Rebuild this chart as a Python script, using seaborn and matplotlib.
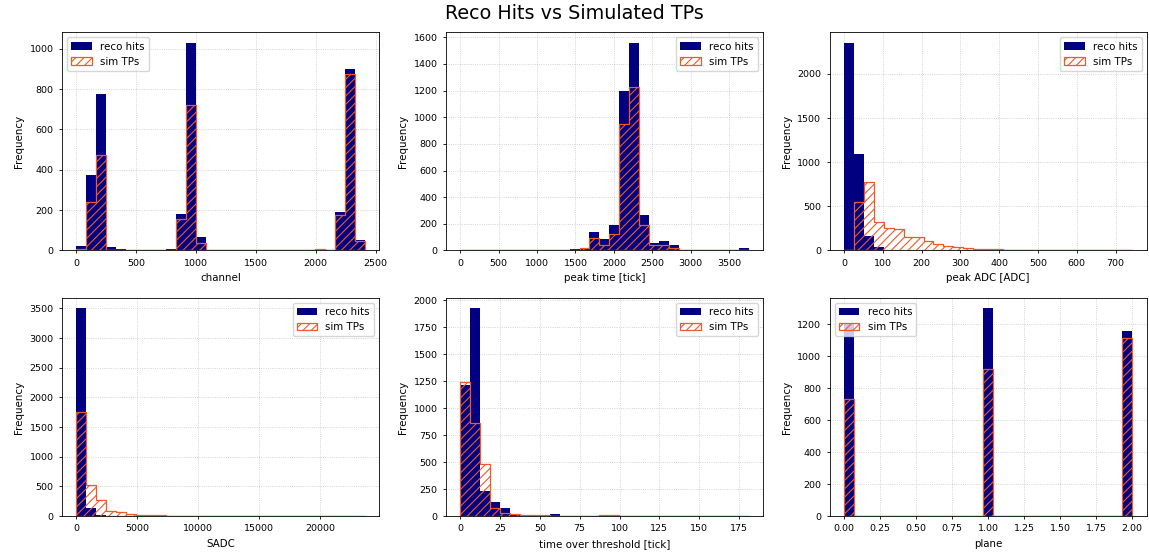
import numpy as np
import pandas as pd
import matplotlib
matplotlib.use("Agg")
import matplotlib.pyplot as plt
import seaborn as sns

# each panel: 29 equal bins between lo and hi, counts
channel_range = (0, 2410)
channel_reco = [20, 375, 775, 15, 5, 0, 0, 0, 2, 5, 180, 1030, 65, 3, 0,
                0, 0, 0, 2, 0, 0, 0, 0, 0, 0, 3, 190, 900, 50]
channel_sim = [5, 240, 475, 0, 0, 0, 0, 0, 3, 3, 155, 720, 35, 0, 0,
               0, 0, 3, 0, 0, 0, 0, 0, 0, 8, 3, 175, 875, 45]

time_range = (0, 3752)
time_reco = [0, 0, 0, 0, 0, 0, 0, 0, 0, 0, 0, 10, 15, 140, 85,
             190, 1200, 1560, 265, 55, 70, 40, 5, 0, 0, 0, 0, 0, 20]
time_sim = [0, 0, 0, 0, 0, 0, 0, 0, 0, 0, 0, 0, 15, 95, 40,
            120, 950, 1230, 190, 40, 40, 15, 0, 0, 0, 0, 0, 0, 0]

adc_range = (0, 743)
adc_reco = [2355, 1094, 166, 38, 10, 5, 2, 0, 0, 0, 0, 0, 0, 0, 0,
            0, 0, 0, 0, 0, 0, 0, 0, 0, 0, 0, 0, 0, 0]
adc_sim = [0, 551, 775, 325, 253, 241, 155, 155, 102, 68, 45, 34, 26, 19, 15,
           15, 10, 5, 3, 8, 3, 8, 8, 3, 8, 3, 3, 2, 2]

sadc_range = (0, 23670)
sadc_reco = [3500, 129, 20, 5, 2, 0, 0, 0, 0, 0, 0, 0, 0, 0, 0,
             0, 0, 0, 0, 0, 0, 0, 0, 0, 0, 0, 0, 0, 0]
sadc_sim = [1756, 518, 264, 90, 68, 28, 15, 15, 15, 0, 8, 8, 0, 8, 0,
            2, 2, 0, 2, 0, 2, 0, 0, 2, 0, 0, 2, 0, 2]

tot_range = (0, 181)
tot_reco = [1215, 1923, 235, 127, 77, 22, 12, 10, 5, 15, 3, 3, 5, 5, 2,
            0, 0, 0, 0, 0, 0, 0, 0, 0, 0, 0, 0, 0, 0]
tot_sim = [1246, 866, 482, 71, 31, 15, 12, 8, 6, 5, 5, 5, 5, 5, 6,
           6, 3, 2, 1, 0, 0, 0, 0, 0, 0, 0, 0, 0, 1]

plane_range = (0, 2)
plane_reco = [1200] + [0] * 13 + [1298] + [0] * 13 + [1158]
plane_sim = [729] + [0] * 13 + [917] + [0] * 13 + [1115]

n_bins = 29

panels = [
    (channel_range, channel_reco, channel_sim, "channel", "upper left"),
    (time_range, time_reco, time_sim, "peak time [tick]", "upper right"),
    (adc_range, adc_reco, adc_sim, "peak ADC [ADC]", "upper right"),
    (sadc_range, sadc_reco, sadc_sim, "SADC", "upper right"),
    (tot_range, tot_reco, tot_sim, "time over threshold [tick]", "upper right"),
    (plane_range, plane_reco, plane_sim, "plane", "upper left"),
]

sim_color = "#EE5A2A"

plt.rcParams.update({
    "font.size": 7.4,
    "xtick.labelsize": 6.8,
    "ytick.labelsize": 6.8,
    "axes.linewidth": 0.6,
    "xtick.major.size": 2.5,
    "ytick.major.size": 2.5,
    "xtick.major.width": 0.6,
    "ytick.major.width": 0.6,
    "hatch.linewidth": 0.8,
})

fig, axes = plt.subplots(2, 3, figsize=(11.49, 5.52), dpi=100)
axes = axes.flatten()

for ax, (rng, reco, sim, xlabel, loc) in zip(axes, panels):
    # seaborn compares bins to "auto", so hand it a plain list
    edges = list(np.linspace(rng[0], rng[1], n_bins + 1))
    df = pd.DataFrame({"x": [0.5 * (a + b) for a, b in zip(edges[:-1], edges[1:])],
                       "reco": reco, "sim": sim})

    sns.histplot(data=df, x="x", weights="reco", bins=edges, color="navy",
                 alpha=1, linewidth=0, label="reco hits", ax=ax)
    sns.histplot(data=df, x="x", weights="sim", bins=edges, element="step",
                 fill=True, color=sim_color, facecolor="none",
                 edgecolor=sim_color, hatch="////", linewidth=0.9,
                 label="sim TPs", ax=ax)

    ax.set_xlabel(xlabel)
    ax.set_ylabel("Frequency")
    ax.set_axisbelow(True)
    ax.grid(True, linestyle=":", color="grey", alpha=0.45, linewidth=0.6)

    handles, labels = ax.get_legend_handles_labels()
    order = [labels.index("reco hits"), labels.index("sim TPs")]
    ax.legend([handles[i] for i in order], [labels[i] for i in order], loc=loc)

fig.suptitle("Reco Hits vs Simulated TPs", fontsize=13.8, y=0.992)
fig.subplots_adjust(left=0.054, right=0.998, top=0.9415, bottom=0.065,
                    wspace=0.21, hspace=0.218)
fig.savefig("out.png", dpi=100)
